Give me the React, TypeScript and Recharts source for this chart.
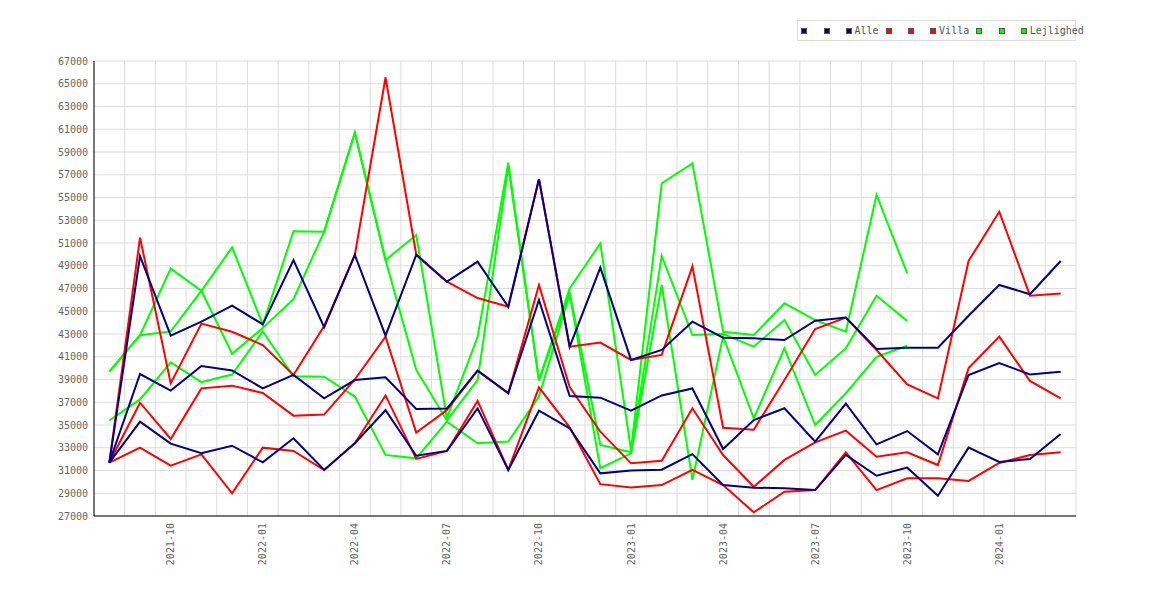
import React from "react";
import { LineChart, Line, XAxis, YAxis, CartesianGrid } from "recharts";

const months = [
  "2021-08", "2021-09", "2021-10", "2021-11", "2021-12",
  "2022-01", "2022-02", "2022-03", "2022-04", "2022-05", "2022-06", "2022-07", "2022-08", "2022-09", "2022-10", "2022-11", "2022-12",
  "2023-01", "2023-02", "2023-03", "2023-04", "2023-05", "2023-06", "2023-07", "2023-08", "2023-09", "2023-10", "2023-11", "2023-12",
  "2024-01", "2024-02", "2024-03",
];

const alleHigh = [31700, 49850, 42850, 44080, 45490, 43850, 49500, 43600, 49950, 42850, 49950, 47600, 49360, 45400, 56630, 41880, 48840, 40720, 41600, 44080, 42680, 42620, 42470, 44170, 44440, 41680, 41800, 41800, 44600, 47310, 46490, 49420];
const alleMid = [31700, 39480, 38020, 40190, 39800, 38220, 39400, 37340, 38950, 39200, 36410, 36440, 39780, 37800, 45990, 37550, 37400, 36260, 37600, 38210, 32890, 35440, 36470, 33530, 36880, 33300, 34470, 32420, 39400, 40450, 39450, 39690];
const alleLow = [31700, 35300, 33360, 32510, 33180, 31720, 33830, 31050, 33400, 36300, 32300, 32720, 36460, 31050, 36260, 34710, 30750, 30990, 31070, 32440, 29720, 29490, 29430, 29280, 32380, 30540, 31250, 28780, 33010, 31750, 32010, 34210];

const villaHigh = [31700, 51470, 38660, 43910, 43200, 42030, 39400, 43700, 49950, 65550, 50000, 47600, 46160, 45400, 56600, 41890, 42250, 40720, 41160, 48950, 34760, 34590, 38960, 43440, 44440, 41590, 38570, 37340, 49420, 53750, 46370, 46550];
const villaMid = [31700, 36960, 33770, 38220, 38460, 37810, 35820, 35920, 39000, 42760, 34330, 36320, 39780, 37790, 47310, 38340, 34410, 31630, 31850, 36470, 32360, 29570, 31930, 33470, 34500, 32210, 32600, 31480, 40000, 42770, 38870, 37340];
const villaLow = [31700, 33010, 31430, 32420, 28990, 33010, 32720, 31040, 33400, 37600, 32020, 32720, 37120, 31050, 38310, 34800, 29800, 29510, 29720, 31050, 29720, 27320, 29130, 29280, 32600, 29280, 30310, 30310, 30080, 31660, 32360, 32600];

const lejlHigh = [39700, 42900, 48750, 46800, 50620, 43820, 52030, 52000, 60700, 49500, 51700, 35600, 42750, 58060, 38960, 47000, 50970, 32800, 56250, 58000, 43200, 42910, 45700, 44230, 43200, 55220, 48330, null, null, null, null, null];
const lejlMid = [39700, 42900, 43230, 46800, 41260, 43530, 46060, 52000, 60700, 49500, 39850, 35400, 38950, 57700, 38900, 46600, 33250, 32600, 49860, 42910, 43000, 41890, 44230, 39400, 41740, 46370, 44140, null, null, null, null, null];
const lejlLow = [35400, 37250, 40500, 38770, 39440, 43230, 39290, 39250, 37500, 32370, 32070, 35300, 33400, 33540, 37500, 46500, 31200, 32500, 47310, 30170, 42800, 35590, 41740, 35000, 37790, 41000, 41970, null, null, null, null, null];

const xTickIndexes = [2, 5, 8, 11, 14, 17, 20, 23, 26, 29];
const yTicks = [27000, 29000, 31000, 33000, 35000, 37000, 39000, 41000, 43000, 45000, 47000, 49000, 51000, 53000, 55000, 57000, 59000, 61000, 63000, 65000, 67000];

const NAVY = "#000080";
const RED = "#ff0000";
const GREEN = "#00ff00";
const FONT = "'DejaVu Sans Mono', monospace";

const data = months.map((m, i) => ({
  i,
  month: m,
  aH: alleHigh[i], aM: alleMid[i], aL: alleLow[i],
  vH: villaHigh[i], vM: villaMid[i], vL: villaLow[i],
  lH: lejlHigh[i], lM: lejlMid[i], lL: lejlLow[i],
}));

const bandEdges = Array.from({ length: months.length + 1 }, (_, k) => k - 0.5);

const XTick = (props: any) => {
  const { x, y, payload } = props;
  return (
    <g transform={`translate(${x},${y})`}>
      <text
        transform="rotate(-90)"
        x={-7}
        y={0}
        dy="0.35em"
        textAnchor="end"
        fill="#666"
        fontSize={10}
        fontFamily={FONT}
      >
        {months[payload.value]}
      </text>
    </g>
  );
};

const legendGroups = [
  { name: "Alle", color: NAVY },
  { name: "Villa", color: RED },
  { name: "Lejlighed", color: GREEN },
];

const Square = ({ color }: { color: string }) => (
  <span
    style={{
      display: "inline-block",
      width: 6,
      height: 6,
      boxSizing: "border-box",
      background: color,
      border: "1px solid #555",
    }}
  />
);

const LegendBox = () => (
  <div
    style={{
      position: "absolute",
      left: 789,
      top: 12,
      width: 279,
      height: 21,
      boxSizing: "border-box",
      border: "1px solid #ddd",
      background: "#fff",
      display: "flex",
      alignItems: "center",
      paddingLeft: 3,
      whiteSpace: "nowrap",
      fontFamily: FONT,
      fontSize: 10,
      color: "#555",
    }}
  >
    {legendGroups.map((g) => (
      <React.Fragment key={g.name}>
        <span style={{ display: "inline-flex", alignItems: "center", marginRight: 16.5 }}>
          <Square color={g.color} />
        </span>
        <span style={{ display: "inline-flex", alignItems: "center", marginRight: 16 }}>
          <Square color={g.color} />
        </span>
        <span style={{ display: "inline-flex", alignItems: "center", marginRight: 7 }}>
          <Square color={g.color} />
          <span style={{ marginLeft: 3, lineHeight: "10px" }}>{g.name}</span>
        </span>
      </React.Fragment>
    ))}
  </div>
);

const verticalGen = (props: any) => {
  const xAxis = props && props.xAxis;
  if (xAxis && typeof xAxis.scale === "function") {
    return bandEdges.map((v) => xAxis.scale(v));
  }
  const off = props.offset;
  return bandEdges.map((_, k) => off.left + (k * off.width) / months.length);
};

export default function App() {
  return (
    <div style={{ position: "relative", width: 1154, height: 584, background: "#fff" }}>
      <LineChart
        width={1154}
        height={584}
        data={data}
        margin={{ top: 53, right: 86, bottom: 16, left: 6 }}
        style={{ fontFamily: FONT }}
      >
        <CartesianGrid
          stroke="#ddd"
          strokeWidth={1}
          verticalCoordinatesGenerator={verticalGen}
        />
        <XAxis
          dataKey="i"
          type="number"
          domain={[-0.5, 31.5]}
          ticks={xTickIndexes}
          interval={0}
          allowDataOverflow
          tick={<XTick />}
          tickLine={false}
          tickSize={0}
          tickMargin={0}
          axisLine={{ stroke: "#000", strokeWidth: 1 }}
          height={60}
        />
        <YAxis
          type="number"
          domain={[27000, 67000]}
          ticks={yTicks}
          interval={0}
          allowDataOverflow
          width={80}
          tickLine={false}
          tickSize={0}
          tickMargin={6}
          axisLine={{ stroke: "#000", strokeWidth: 1 }}
          tick={{ fill: "#666", fontSize: 10, fontFamily: FONT }}
        />
        <Line dataKey="lH" stroke={GREEN} strokeWidth={2} dot={false} activeDot={false} isAnimationActive={false} />
        <Line dataKey="lM" stroke={GREEN} strokeWidth={2} dot={false} activeDot={false} isAnimationActive={false} />
        <Line dataKey="lL" stroke={GREEN} strokeWidth={2} dot={false} activeDot={false} isAnimationActive={false} />
        <Line dataKey="vH" stroke={RED} strokeWidth={2} dot={false} activeDot={false} isAnimationActive={false} />
        <Line dataKey="vM" stroke={RED} strokeWidth={2} dot={false} activeDot={false} isAnimationActive={false} />
        <Line dataKey="vL" stroke={RED} strokeWidth={2} dot={false} activeDot={false} isAnimationActive={false} />
        <Line dataKey="aH" stroke={NAVY} strokeWidth={2} dot={false} activeDot={false} isAnimationActive={false} />
        <Line dataKey="aM" stroke={NAVY} strokeWidth={2} dot={false} activeDot={false} isAnimationActive={false} />
        <Line dataKey="aL" stroke={NAVY} strokeWidth={2} dot={false} activeDot={false} isAnimationActive={false} />
      </LineChart>
      <LegendBox />
    </div>
  );
}
